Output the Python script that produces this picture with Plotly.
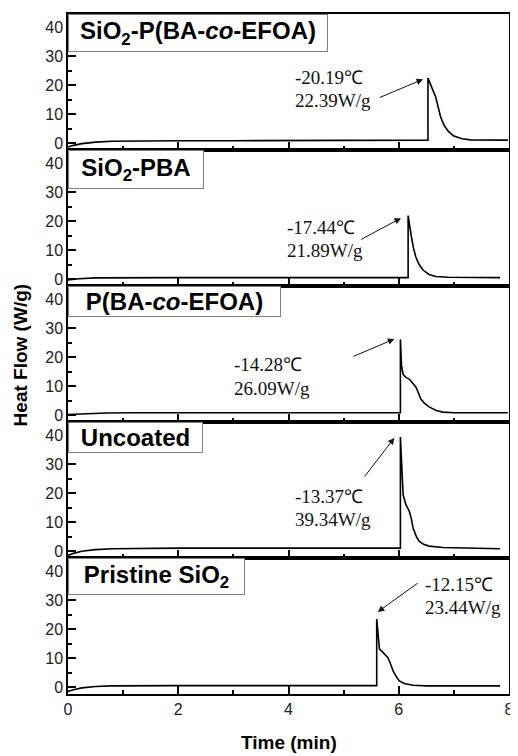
import plotly.graph_objects as go
from plotly.subplots import make_subplots

# ---------------- data ----------------
panel_labels = ["SiO<sub>2</sub>-P(BA-<i>co</i>-EFOA)", "SiO<sub>2</sub>-PBA",
                "P(BA-<i>co</i>-EFOA)", "Uncoated", "Pristine SiO<sub>2</sub>"]

x_sio2_pbaefoa = [0, 0.1, 0.25, 0.5, 0.8, 1.2, 2, 3, 4, 5, 6, 6.53, 6.53, 6.6, 6.67, 6.72, 6.76, 6.82, 6.9, 7.0, 7.15, 7.3, 7.6, 7.98]
y_sio2_pbaefoa = [-1.4, -0.8, -0.2, 0.3, 0.6, 0.7, 0.8, 0.8, 0.9, 0.9, 1.0, 1.0, 22.39, 19, 15.9, 12, 9, 6.2, 4, 2.4, 1.5, 1.1, 1.0, 1.0]

x_sio2_pba = [0, 0.2, 0.5, 1, 2, 3, 4, 5, 6, 6.17, 6.17, 6.2, 6.23, 6.27, 6.31, 6.37, 6.44, 6.55, 6.67, 6.9, 7.3, 7.84]
y_sio2_pba = [-0.3, 0.1, 0.4, 0.5, 0.5, 0.5, 0.5, 0.5, 0.5, 0.5, 21.89, 17.5, 14.5, 10.5, 7.6, 5, 3.1, 1.6, 0.9, 0.6, 0.5, 0.5]

x_pbaefoa = [0, 0.3, 0.7, 1.2, 2, 3, 4, 5, 6.03, 6.03, 6.05, 6.08, 6.13, 6.19, 6.25, 6.31, 6.36, 6.4, 6.47, 6.55, 6.68, 6.8, 7.0, 7.5, 7.98]
y_pbaefoa = [0.2, 0.5, 0.7, 0.8, 0.8, 0.8, 0.8, 0.8, 0.8, 26.09, 17, 14, 13, 12.4, 11.2, 9.7, 7.5, 5.5, 4, 2.8, 1.6, 1.0, 0.8, 0.8, 0.8]

x_uncoated = [0, 0.1, 0.25, 0.5, 0.8, 1.2, 2, 3, 4, 5, 6.03, 6.03, 6.06, 6.08, 6.13, 6.19, 6.23, 6.26, 6.32, 6.37, 6.45, 6.55, 6.8, 7.2, 7.84]
y_uncoated = [-1.5, -0.8, -0.1, 0.5, 0.8, 0.9, 1.0, 1.0, 1.0, 1.0, 1.0, 39.34, 24, 19.3, 16, 13.8, 11, 7.9, 5, 3.4, 2.3, 1.7, 1.2, 1.0, 0.8]

x_pristine = [0, 0.1, 0.25, 0.5, 0.8, 1.2, 2, 3, 4, 5, 5.6, 5.6, 5.63, 5.65, 5.7, 5.74, 5.8, 5.83, 5.87, 5.9, 5.95, 6.01, 6.1, 6.26, 6.5, 7, 7.84]
y_pristine = [-1.5, -0.9, -0.3, 0.2, 0.4, 0.5, 0.5, 0.5, 0.5, 0.5, 0.5, 23.44, 16, 13.1, 12.2, 11.4, 10.2, 9, 7, 5.5, 3.8, 2.1, 1.2, 0.6, 0.4, 0.4, 0.4]

xs = [x_sio2_pbaefoa, x_sio2_pba, x_pbaefoa, x_uncoated, x_pristine]
ys = [y_sio2_pbaefoa, y_sio2_pba, y_pbaefoa, y_uncoated, y_pristine]

peak_temps = ["-20.19℃", "-17.44℃", "-14.28℃", "-13.37℃", "-12.15℃"]
peak_flows = ["22.39W/g", "21.89W/g", "26.09W/g", "39.34W/g", "23.44W/g"]
text_x = [4.09, 3.93, 2.97, 4.09, 6.44]
text_y1 = [22.6, 17.8, 17.3, 18.9, 35.5]
text_y2 = [14.7, 9.8, 9.3, 10.8, 27.5]
arrow_tail_x = [5.63, 5.29, 5.15, 5.36, 6.37]
arrow_tail_y = [15.5, 13.4, 20.0, 25.2, 36.2]
arrow_head_x = [6.44, 6.04, 5.92, 5.92, 5.62]
arrow_head_y = [22.0, 21.0, 26.2, 39.0, 25.9]

y_ticks = [0, 10, 20, 30, 40]
x_ticks = [0, 2, 4, 6, 8]

# ---------------- figure ----------------
fig = make_subplots(rows=5, cols=1, shared_xaxes=True, vertical_spacing=0)

label_box_w = [256, 132, 209, 131, 173]
label_box_h = [34, 35, 27, 27, 33]

sans = "Liberation Sans, Arial, sans-serif"
serif = "Liberation Serif, Times New Roman, serif"

for i in range(5):
    r = i + 1
    fig.add_trace(go.Scatter(x=xs[i], y=ys[i], mode="lines",
                             line=dict(color="black", width=1.6),
                             showlegend=False, hoverinfo="skip"), row=r, col=1)
    xref = "x" if r == 1 else f"x{r}"
    yref = "y" if r == 1 else f"y{r}"
    # label box
    fig.add_annotation(text=panel_labels[i], xref=f"{xref} domain", yref=f"{yref} domain",
                       x=0, y=1, xanchor="left", yanchor="top", showarrow=False,
                       font=dict(family=sans, size=24, color="black", weight="bold"),
                       bgcolor="white", bordercolor="#808080", borderwidth=1, borderpad=1,
                       width=label_box_w[i], height=label_box_h[i], align="center", valign="middle")
    # text
    for ty, tt in [(text_y1[i], peak_temps[i]), (text_y2[i], peak_flows[i])]:
        fig.add_annotation(text=tt, xref=xref, yref=yref, x=text_x[i], y=ty,
                           xanchor="left", yanchor="middle", showarrow=False,
                           font=dict(family=serif, size=19, color="#111"))
    # arrow
    fig.add_annotation(text="", xref=xref, yref=yref, x=arrow_head_x[i], y=arrow_head_y[i],
                       axref=xref, ayref=yref, ax=arrow_tail_x[i], ay=arrow_tail_y[i],
                       showarrow=True, arrowhead=2, arrowsize=1.3, arrowwidth=1, arrowcolor="#111")

    fig.update_yaxes(row=r, col=1, range=[-2.4, 44.5], tickvals=y_ticks,
                     ticks="inside", ticklen=8, tickwidth=1.5, tickcolor="black",
                     minor=dict(dtick=5, tick0=0, ticks="inside", ticklen=4, tickwidth=1.5, tickcolor="black"),
                     showline=True, linecolor="black", linewidth=1.5, mirror=True,
                     showgrid=False, zeroline=False,
                     tickfont=dict(family=sans, size=16, color="#222"))
    fig.update_xaxes(row=r, col=1, range=[0, 8], tickvals=x_ticks,
                     ticks="inside", ticklen=8, tickwidth=1.5, tickcolor="black",
                     minor=dict(dtick=1, tick0=0, ticks="inside", ticklen=4, tickwidth=1.5, tickcolor="black"),
                     showline=True, linecolor="black", linewidth=1.5, mirror=True,
                     showgrid=False, zeroline=False,
                     tickfont=dict(family=sans, size=16, color="#222"))

fig.update_xaxes(row=5, col=1, showticklabels=True)

fig.add_annotation(text="Heat Flow (W/g)", xref="paper", yref="paper", x=-0.108, y=0.4985,
                   textangle=-90, showarrow=False, xanchor="center", yanchor="middle",
                   font=dict(family=sans, size=19, color="black", weight="bold"))
fig.add_annotation(text="Time (min)", xref="paper", yref="paper", x=0.5, y=-0.0706,
                   showarrow=False, xanchor="center", yanchor="middle",
                   font=dict(family=sans, size=19, color="black", weight="bold"))

# page body adds an 8px offset; size the figure so the plot area lands where the reference has it
fig.update_layout(width=510, height=748, margin=dict(l=60, r=4, t=6, b=62),
                  paper_bgcolor="white", plot_bgcolor="white")

fig.write_html("out.html")
